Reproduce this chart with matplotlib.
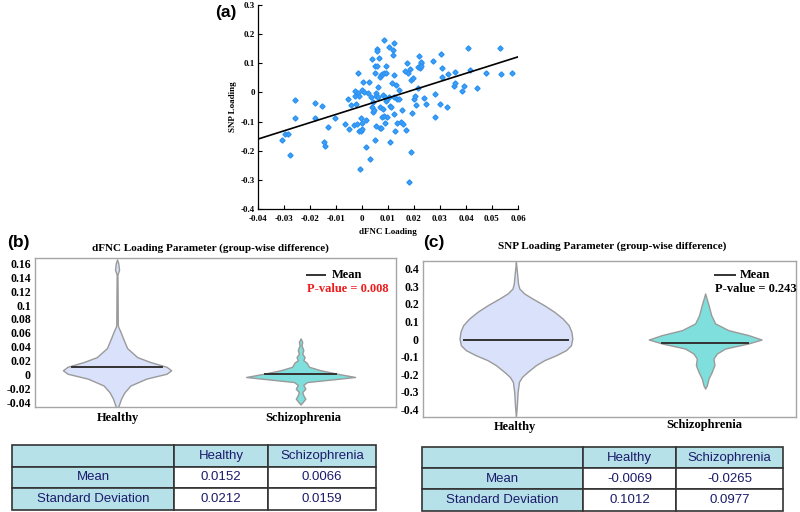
import numpy as np
import matplotlib
matplotlib.use("Agg")
import matplotlib.pyplot as plt

# ---------------- data ----------------
dfnc_x = [-0.0306, -0.0297, -0.0285, -0.0278, -0.0258, -0.0258, -0.0181, -0.0179, -0.0153, -0.0146,
          -0.0142, -0.0131, -0.0105, -0.0067, -0.0053, -0.0050, -0.0044, -0.0029, -0.0026, -0.0026,
          -0.0022, -0.0018, -0.0015, -0.0015, -0.0013, -0.0013, -0.0009, -0.0004, -0.0003, -0.0001,
          0.0001, 0.0001, 0.0005, 0.0006, 0.0017, 0.0017, 0.0023, 0.0027, 0.0029, 0.0036,
          0.0037, 0.0038, 0.0041, 0.0044, 0.0046, 0.0050, 0.0051, 0.0051, 0.0054, 0.0055,
          0.0055, 0.0059, 0.0059, 0.0058, 0.0062, 0.0063, 0.0065, 0.0068, 0.0068, 0.0069,
          0.0072, 0.0074, 0.0076, 0.0078, 0.0079, 0.0081, 0.0085, 0.0085, 0.0086, 0.0088,
          0.0090, 0.0091, 0.0092, 0.0094, 0.0096, 0.0097, 0.0104, 0.0104, 0.0106, 0.0108,
          0.0110, 0.0115, 0.0118, 0.0121, 0.0122, 0.0123, 0.0123, 0.0124, 0.0128, 0.0132,
          0.0133, 0.0135, 0.0141, 0.0141, 0.0149, 0.0153, 0.0158, 0.0164, 0.0168, 0.0173,
          0.0177, 0.0181, 0.0183, 0.0188, 0.0190, 0.0194, 0.0196, 0.0199, 0.0204, 0.0209,
          0.0217, 0.0219, 0.0222, 0.0226, 0.0227, 0.0228, 0.0215, 0.0238, 0.0247, 0.0273,
          0.0281, 0.0282, 0.0301, 0.0305, 0.0306, 0.0308, 0.0327, 0.0331, 0.0353, 0.0356,
          0.0359, 0.0386, 0.0392, 0.0408, 0.0417, 0.0442, 0.0478, 0.0532, 0.0536, 0.0577]
snp_y = [-0.164, -0.144, -0.144, -0.215, -0.026, -0.087, -0.035, -0.087, -0.047, -0.169,
         -0.183, -0.118, -0.087, -0.110, -0.022, -0.124, -0.043, -0.112, 0.006, -0.011,
         -0.040, -0.109, 0.065, -0.001, -0.013, -0.133, -0.263, -0.089, -0.133, -0.104,
         0.008, -0.124, 0.037, 0.002, -0.186, -0.093, -0.003, 0.037, -0.229, -0.017,
         0.113, -0.049, -0.066, -0.032, -0.061, -0.164, 0.068, 0.090, -0.001, -0.013,
         -0.116, 0.148, 0.143, 0.090, 0.017, -0.015, 0.119, -0.049, -0.121, 0.054,
         -0.121, 0.059, -0.084, 0.063, -0.008, -0.057, 0.068, -0.081, 0.180, -0.015,
         -0.104, 0.090, 0.068, -0.030, -0.022, -0.084, 0.157, -0.015, -0.169, -0.047,
         -0.049, 0.033, 0.145, 0.128, 0.168, -0.015, -0.074, 0.059, -0.132, 0.027,
         -0.104, -0.021, 0.008, -0.021, -0.101, -0.061, -0.109, 0.074, -0.129, 0.102,
         0.065, -0.307, 0.082, -0.204, 0.042, -0.070, 0.048, -0.023, -0.013, -0.043,
         0.088, 0.125, 0.085, 0.100, 0.105, 0.092, 0.014, -0.018, -0.041, 0.109,
         -0.007, -0.084, -0.038, 0.132, 0.085, 0.054, -0.051, 0.063, 0.022, 0.034,
         0.071, 0.006, 0.022, 0.151, 0.077, 0.016, 0.068, 0.151, 0.062, 0.068]
reg_x = [-0.04, 0.06]
reg_y = [-0.160, 0.122]

groups = ["Healthy", "Schizophrenia"]

# violin outlines (value level, half-width)
b_h_y = [0.166, 0.160, 0.151, 0.144, 0.120, 0.072, 0.069, 0.062, 0.052, 0.038, 0.025, 0.018,
         0.011, 0.006, 0.001, -0.006, -0.016, -0.026, -0.035, -0.045, -0.049]
b_h_w = [0, 0.007, 0.011, 0.002, 0.003, 0.004, 0.006, 0.018, 0.033, 0.055, 0.11, 0.18,
         0.27, 0.295, 0.27, 0.16, 0.073, 0.04, 0.022, 0.009, 0]
b_s_y = [0.052, 0.047, 0.042, 0.035, 0.030, 0.025, 0.0205, 0.017, 0.011, 0.006, 0.001, -0.0037,
         -0.007, -0.011, -0.015, -0.0206, -0.0255, -0.030, -0.035, -0.040, -0.0434]
b_s_w = [0, 0.009, 0.0055, 0.015, 0.009, 0.022, 0.015, 0.033, 0.046, 0.109, 0.20, 0.297,
         0.18, 0.036, 0.015, 0.026, 0.009, 0.015, 0.026, 0.011, 0]
c_h_y = [0.438, 0.40, 0.362, 0.315, 0.286, 0.258, 0.229, 0.191, 0.154, 0.116, 0.078, 0.041,
         0.003, -0.035, -0.063, -0.092, -0.12, -0.148, -0.186, -0.215, -0.243, -0.30, -0.376, -0.442]
c_h_w = [0, 0.0035, 0.007, 0.011, 0.018, 0.044, 0.088, 0.15, 0.203, 0.247, 0.279, 0.293,
         0.298, 0.291, 0.265, 0.212, 0.15, 0.106, 0.062, 0.032, 0.016, 0.009, 0.005, 0]
c_s_y = [0.258, 0.239, 0.192, 0.135, 0.088, 0.050, 0.022, -0.003, -0.025, -0.054, -0.082,
         -0.111, -0.148, -0.186, -0.224, -0.262, -0.281]
c_s_w = [0, 0.005, 0.018, 0.032, 0.053, 0.123, 0.229, 0.298, 0.229, 0.106, 0.062,
         0.044, 0.049, 0.035, 0.018, 0.009, 0]
b_means = [0.0113, 0.0007]
c_means = [-0.0066, -0.020]
b_pvalue = "P-value = 0.008"
c_pvalue = "P-value = 0.243"

tbl_cols = ["", "Healthy", "Schizophrenia"]
tbl_rows = ["Mean", "Standard Deviation"]
b_table = [["0.0152", "0.0066"], ["0.0212", "0.0159"]]
c_table = [["-0.0069", "-0.0265"], ["0.1012", "0.0977"]]

# ---------------- style ----------------
W, H = 800, 512
SERIF = "Liberation Serif"
SANS = "Liberation Sans"
fig = plt.figure(figsize=(W / 100, H / 100), dpi=100)


def px_axes(l, t, r, b):
    return fig.add_axes([l / W, 1 - b / H, (r - l) / W, (b - t) / H])


def fmt(v):
    s = ("%.2f" % v).rstrip("0").rstrip(".")
    if s in ("-0", ""):
        s = "0"
    return s


# ---------------- (a) scatter ----------------
ax = px_axes(258, 5, 518, 209)
ax.plot(dfnc_x, snp_y, ls="none", marker="D", ms=2.6, color="#3fa2f7", mec="#2e92f2")
ax.plot(reg_x, reg_y, color="black", lw=1.2)
ax.set_xlim(-0.04, 0.06)
ax.set_ylim(-0.4, 0.3)
xt = np.arange(-0.04, 0.0601, 0.01)
yt = np.arange(-0.4, 0.301, 0.1)
ax.set_xticks(xt)
ax.set_yticks(yt)
ax.set_xticklabels([fmt(v) for v in xt], fontfamily=SERIF, fontweight="bold", fontsize=6.5)
ax.set_yticklabels([fmt(v) for v in yt], fontfamily=SERIF, fontweight="bold", fontsize=6.5)
ax.tick_params(direction="in", length=3, width=0.8, pad=2, top=False, right=False)
ax.tick_params(axis="x", pad=4)
for s in ("top", "right"):
    ax.spines[s].set_visible(False)
for s in ("left", "bottom"):
    ax.spines[s].set_linewidth(0.9)
ax.set_xlabel("dFNC Loading", fontfamily=SERIF, fontweight="bold", fontsize=6.5, labelpad=4)
ax.set_ylabel("SNP Loading", fontfamily=SERIF, fontweight="bold", fontsize=6.5, labelpad=3)
fig.text(215 / W, 1 - 13 / H, "(a)", fontfamily=SANS, fontweight="bold", fontsize=12.5,
         va="center", ha="left")


def violin_panel(box, ylim, xlim, shapes, means, yticks, title, tlabel_pos, title_y,
                 leg, pval, pcolor, label_y):
    ax = px_axes(*box)
    fills = ["#d9e1fb", "#7fdfdc"]
    for i, ((yy, ww), m) in enumerate(zip(shapes, means)):
        pos = i + 1
        yy = np.array(yy); ww = np.array(ww)
        ax.fill_betweenx(yy, pos - ww, pos + ww, facecolor=fills[i], edgecolor="#9a9a9a",
                         lw=1.0, zorder=2)
        order = np.argsort(yy)
        hw = np.interp(m, yy[order], ww[order]) * 0.93
        ax.plot([pos - hw, pos + hw], [m, m], color="#333333", lw=1.4, zorder=3)
    ax.set_xlim(*xlim)
    ax.set_ylim(*ylim)
    ax.set_yticks(yticks)
    ax.set_yticklabels([fmt(v) if abs(v) > 1e-9 else "0" for v in yticks],
                       fontfamily=SERIF, fontweight="bold", fontsize=8.5)
    ax.set_xticks([1, 2])
    ax.set_xticklabels([])
    ax.tick_params(length=0, pad=3)
    for s in ax.spines.values():
        s.set_edgecolor("#a6a6a6")
        s.set_linewidth(1.0)
    for i, g in enumerate(groups):
        fig.text(label_y[i][0] / W, 1 - label_y[i][1] / H, g, fontfamily=SERIF,
                 fontweight="bold", fontsize=9, ha="center", va="center")
    fig.text(title_y[0] / W, 1 - title_y[1] / H, title, fontfamily=SERIF, fontweight="bold",
             fontsize=8, ha="center", va="center")
    fig.text(tlabel_pos[0] / W, 1 - tlabel_pos[1] / H, tlabel_pos[2], fontfamily=SANS,
             fontweight="bold", fontsize=12.5, ha="left", va="center")
    lx0, lx1, ly, tx, py = leg
    ax.plot([lx0, lx1], [ly, ly], transform=ax.transAxes, color="#333333", lw=1.4)
    ax.text(tx, ly, "Mean", transform=ax.transAxes, fontfamily=SERIF, fontweight="bold",
            fontsize=9, va="center", ha="left")
    ax.text(lx0, py, pval, transform=ax.transAxes, fontfamily=SERIF, fontweight="bold",
            fontsize=9, va="center", ha="left", color=pcolor)
    return ax


# ---------------- (b) ----------------
violin_panel((35, 258, 396, 407), (-0.047, 0.168), (0.553, 2.52),
             [(b_h_y, b_h_w), (b_s_y, b_s_w)], b_means,
             np.round(np.arange(-0.04, 0.161, 0.02), 2),
             "dFNC Loading Parameter (group-wise difference)", (7, 242, "(b)"), (210, 248),
             (0.753, 0.803, 0.886, 0.823, 0.792), b_pvalue, "#ee1c1c",
             [(118, 418), (303, 418)])

# ---------------- (c) ----------------
violin_panel((423, 261, 796, 417), (-0.442, 0.442), (0.509, 2.48),
             [(c_h_y, c_h_w), (c_s_y, c_s_w)], c_means,
             np.round(np.arange(-0.4, 0.401, 0.1), 1),
             "SNP Loading Parameter (group-wise difference)", (423, 242, "(c)"), (612, 246),
             (0.783, 0.836, 0.91, 0.85, 0.82), c_pvalue, "black",
             [(515, 427), (704, 425)])


# ---------------- tables ----------------
def draw_table(l, t, r, b, colw, rowh, data):
    tax = px_axes(l, t, r, b)
    tax.axis("off")
    cells = [tbl_cols] + [[tbl_rows[i]] + data[i] for i in range(len(tbl_rows))]
    tb = tax.table(cellText=cells, bbox=[0, 0, 1, 1], colWidths=colw, cellLoc="center")
    tb.auto_set_font_size(False)
    for (ri, ci), cell in tb.get_celld().items():
        cell.set_edgecolor("#333333")
        cell.set_linewidth(1.2)
        cell.set_facecolor("#b7e1e9" if (ri == 0 or ci == 0) else "white")
        cell.get_text().set_fontfamily(SANS)
        cell.get_text().set_fontsize(9.5)
        cell.get_text().set_color("#1b1b6b")
        cell.set_height(rowh[ri])
    return tax


draw_table(12, 445, 376, 510, [162 / 364, 94 / 364, 108 / 364], [22 / 65, 21 / 65, 22 / 65], b_table)
draw_table(422, 447, 783, 511, [161 / 361, 93 / 361, 107 / 361], [21 / 64, 21 / 64, 22 / 64], c_table)

fig.savefig("out.png", dpi=100)
